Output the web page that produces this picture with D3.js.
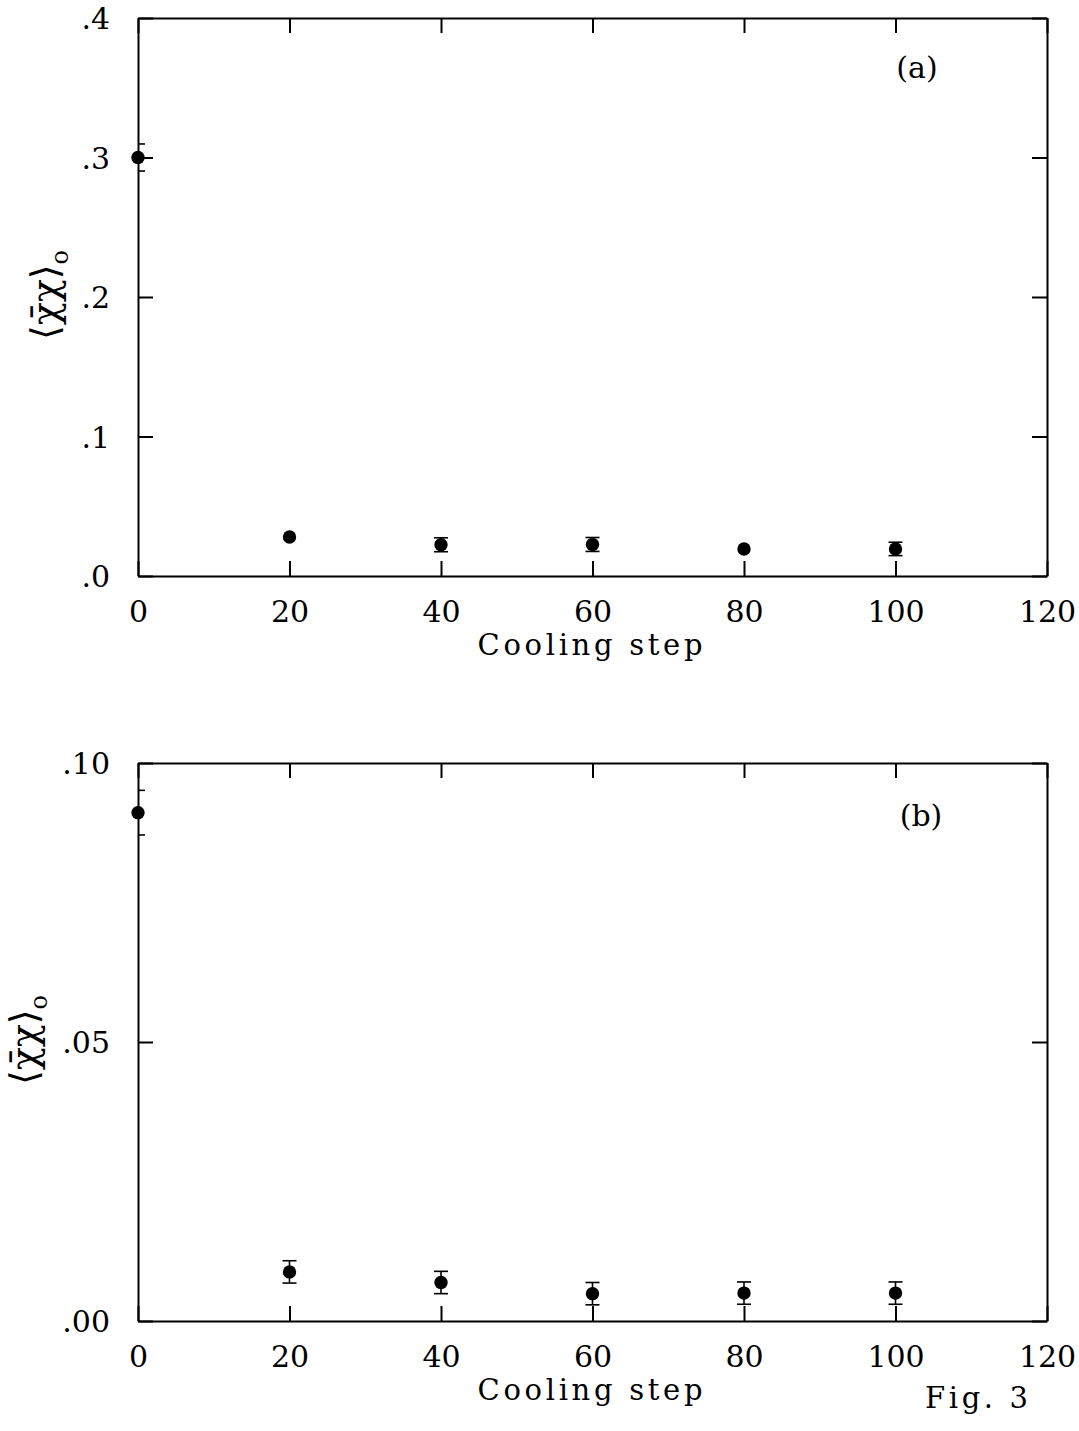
<!DOCTYPE html>
<html>
<head>
<title>Fig. 3</title>
<meta charset="utf-8">
<style type="text/css">
body { margin: 0; background-color: #fff; }
svg text { font-family: "DejaVu Serif", serif; fill: #000; }
</style>
</head>
<body>
<svg id="fig"></svg>

<script src="https://cdn.jsdelivr.net/npm/d3@7"></script>
<script type="text/javascript">
// data
const steps = [0, 20, 40, 60, 80, 100];
const valuesA = [0.300, 0.028, 0.0224, 0.0226, 0.0194, 0.0194];
const errorsA = [0.0097, 0, 0.005, 0.005, 0, 0.0048];
const valuesB = [0.0911, 0.0088, 0.0069, 0.0049, 0.0050, 0.0050];
const errorsB = [0.004, 0.002, 0.002, 0.002, 0.002, 0.002];

const xTicks = [0, 20, 40, 60, 80, 100, 120];
const yTicksA = [0, 0.1, 0.2, 0.3, 0.4];
const yLabelsA = [".0", ".1", ".2", ".3", ".4"];
const yTicksB = [0, 0.05, 0.10];
const yLabelsB = [".00", ".05", ".10"];

const WIDTH = 1079;
const HEIGHT = 1431;
const LEFT = 138, RIGHT = 1047;
const TICK = 15;
const R = 6.7;

const svg = d3.select("#fig")
    .attr("width", WIDTH)
    .attr("height", HEIGHT);

function drawPanel(id, top, bottom, yMax, yTicks, yLabels, values, errors, titleX, tag) {
    const x = d3.scaleLinear().domain([0, 120]).range([LEFT, RIGHT]);
    const y = d3.scaleLinear().domain([0, yMax]).range([bottom, top]);
    const g = svg.append("g").attr("id", id);

    const labelFmt = d => yLabels[yTicks.indexOf(d)];

    // axes, ticks pointing inward on all four sides
    const bx = g.append("g")
        .attr("transform", `translate(0,${bottom})`)
        .call(d3.axisBottom(x).tickValues(xTicks).tickSizeInner(-TICK).tickSizeOuter(0));
    bx.selectAll("text").attr("y", 46).attr("dy", null)
        .style("font-size", "30px");

    g.append("g")
        .attr("transform", `translate(0,${top})`)
        .call(d3.axisTop(x).tickValues(xTicks).tickSizeInner(-TICK).tickSizeOuter(0).tickFormat(""));

    const ly = g.append("g")
        .attr("transform", `translate(${LEFT},0)`)
        .call(d3.axisLeft(y).tickValues(yTicks).tickSizeInner(-TICK).tickSizeOuter(0).tickFormat(labelFmt));
    ly.selectAll("text").attr("x", -28).attr("dy", "0.36em")
        .style("font-size", "30px");

    g.append("g")
        .attr("transform", `translate(${RIGHT},0)`)
        .call(d3.axisRight(y).tickValues(yTicks).tickSizeInner(-TICK).tickSizeOuter(0).tickFormat(""));

    g.selectAll(".domain, .tick line")
        .attr("stroke", "#000")
        .attr("stroke-width", 2);
    g.selectAll(".tick text").attr("font-family", null);

    // error bars, clipped to the frame
    g.append("clipPath").attr("id", id + "-clip")
        .append("rect")
        .attr("x", LEFT).attr("y", top)
        .attr("width", RIGHT - LEFT).attr("height", bottom - top);

    const pts = steps.map((s, i) => ({s: s, v: values[i], e: errors[i]}));

    const eb = g.append("g")
        .attr("clip-path", `url(#${id}-clip)`)
        .attr("stroke", "#000")
        .attr("stroke-width", 1.6)
        .selectAll("g")
        .data(pts.filter(d => d.e > 0))
        .join("g");
    eb.append("line")
        .attr("x1", d => x(d.s)).attr("x2", d => x(d.s))
        .attr("y1", d => y(d.v - d.e)).attr("y2", d => y(d.v + d.e));
    eb.append("line")
        .attr("x1", d => x(d.s) - 7).attr("x2", d => x(d.s) + 7)
        .attr("y1", d => y(d.v + d.e)).attr("y2", d => y(d.v + d.e));
    eb.append("line")
        .attr("x1", d => x(d.s) - 7).attr("x2", d => x(d.s) + 7)
        .attr("y1", d => y(d.v - d.e)).attr("y2", d => y(d.v - d.e));

    g.append("g").selectAll("circle")
        .data(pts)
        .join("circle")
        .attr("cx", d => x(d.s))
        .attr("cy", d => y(d.v))
        .attr("r", R)
        .attr("fill", "#000");

    // axis titles
    g.append("text")
        .attr("x", (LEFT + RIGHT) / 2 - 2.5)
        .attr("y", bottom + 79)
        .attr("text-anchor", "middle")
        .attr("textLength", 225)
        .attr("lengthAdjust", "spacing")
        .style("font-size", "29px")
        .text("Cooling step");

    const yl = g.append("text")
        .attr("transform", `translate(${titleX},${(top + bottom) / 2 - 2}) rotate(-90)`)
        .attr("text-anchor", "middle")
        .style("font-size", "38px");
    yl.append("tspan").text("\u27E8\u03C7\u0304\u03C7\u27E9");
    yl.append("tspan").attr("dy", 10).style("font-size", "24px").text("o");

    g.append("text")
        .attr("x", tag.x)
        .attr("y", tag.y)
        .attr("text-anchor", "middle")
        .style("font-size", "30px")
        .text(tag.text);

    return g;
}

drawPanel("pa", 18, 576, 0.4, yTicksA, yLabelsA, valuesA, errorsA, 58, {x: 917, y: 78, text: "(a)"});
drawPanel("pb", 763, 1321, 0.10, yTicksB, yLabelsB, valuesB, errorsB, 37, {x: 921, y: 826, text: "(b)"});

svg.append("text")
    .attr("x", 925)
    .attr("y", 1408)
    .attr("textLength", 103)
    .attr("lengthAdjust", "spacing")
    .style("font-size", "29px")
    .text("Fig. 3");
</script>
</body>
</html>
